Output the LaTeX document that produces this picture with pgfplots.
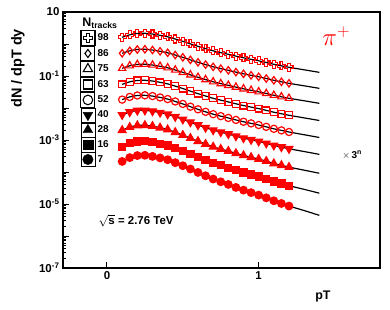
\documentclass[border=0pt]{standalone}
\usepackage{fontspec}
\setmainfont{Liberation Sans}
\usepackage{pgfplots}
\pgfplotsset{compat=1.18}
\usepackage{pgfplotstable}

\pgfdeclareplotmark{ocross}{%
 \pgfpathmoveto{\pgfqpoint{-0.36\pgfplotmarksize}{\pgfplotmarksize}}%
 \pgfpathlineto{\pgfqpoint{0.36\pgfplotmarksize}{\pgfplotmarksize}}%
 \pgfpathlineto{\pgfqpoint{0.36\pgfplotmarksize}{0.36\pgfplotmarksize}}%
 \pgfpathlineto{\pgfqpoint{\pgfplotmarksize}{0.36\pgfplotmarksize}}%
 \pgfpathlineto{\pgfqpoint{\pgfplotmarksize}{-0.36\pgfplotmarksize}}%
 \pgfpathlineto{\pgfqpoint{0.36\pgfplotmarksize}{-0.36\pgfplotmarksize}}%
 \pgfpathlineto{\pgfqpoint{0.36\pgfplotmarksize}{-\pgfplotmarksize}}%
 \pgfpathlineto{\pgfqpoint{-0.36\pgfplotmarksize}{-\pgfplotmarksize}}%
 \pgfpathlineto{\pgfqpoint{-0.36\pgfplotmarksize}{-0.36\pgfplotmarksize}}%
 \pgfpathlineto{\pgfqpoint{-\pgfplotmarksize}{-0.36\pgfplotmarksize}}%
 \pgfpathlineto{\pgfqpoint{-\pgfplotmarksize}{0.36\pgfplotmarksize}}%
 \pgfpathlineto{\pgfqpoint{-0.36\pgfplotmarksize}{0.36\pgfplotmarksize}}%
 \pgfpathclose
 \pgfusepathqstroke}

\pgfplotstableread{
pt a98 a86 a75 a63 a52 a40 a28 a16 a7
0.10 1.62 0.512 0.1743 5.46e-2 1.83e-2 6.12e-3 2.02e-3 6.22e-4 2.14e-4
0.15 1.94 0.613 0.2087 6.58e-2 2.22e-2 7.50e-3 2.52e-3 7.90e-4 2.82e-4
0.20 2.13 0.674 0.2292 7.24e-2 2.46e-2 8.34e-3 2.84e-3 8.95e-4 3.26e-4
0.25 2.16 0.683 0.2324 7.34e-2 2.49e-2 8.47e-3 2.88e-3 9.12e-4 3.33e-4
0.30 2.05 0.648 0.2206 6.97e-2 2.36e-2 8.00e-3 2.71e-3 8.53e-4 3.08e-4
0.35 1.87 0.591 0.2012 6.34e-2 2.14e-2 7.20e-3 2.42e-3 7.66e-4 2.76e-4
0.40 1.68 0.531 0.1808 5.68e-2 1.90e-2 6.38e-3 2.12e-3 6.76e-4 2.42e-4
0.45 1.43 0.452 0.1539 4.82e-2 1.60e-2 5.33e-3 1.74e-3 5.56e-4 1.96e-4
0.50 1.21 0.383 0.1302 4.06e-2 1.34e-2 4.42e-3 1.42e-3 4.55e-4 1.57e-4
0.55 1.01 0.319 0.1087 3.37e-2 1.10e-2 3.61e-3 1.14e-3 3.64e-4 1.24e-4
0.60 0.847 0.268 0.0911 2.81e-2 9.10e-3 2.94e-3 9.14e-4 2.92e-4 9.70e-5
0.65 0.718 0.227 0.0773 2.37e-2 7.60e-3 2.44e-3 7.45e-4 2.35e-4 7.61e-5
0.70 0.612 0.1935 0.0659 2.01e-2 6.40e-3 2.04e-3 6.12e-4 1.92e-4 6.03e-5
0.75 0.538 0.170 0.0579 1.76e-2 5.57e-3 1.77e-3 5.22e-4 1.62e-4 4.94e-5
0.80 0.476 0.1505 0.0512 1.55e-2 4.89e-3 1.54e-3 4.50e-4 1.37e-4 4.09e-5
0.85 0.418 0.132 0.0450 1.355e-2 4.24e-3 1.32e-3 3.83e-4 1.15e-4 3.30e-5
0.90 0.370 0.117 0.0398 1.194e-2 3.72e-3 1.15e-3 3.30e-4 9.68e-5 2.71e-5
0.95 0.332 0.105 0.0357 1.069e-2 3.31e-3 1.02e-3 2.89e-4 8.35e-5 2.27e-5
1.00 0.2985 0.0944 0.0321 9.57e-3 2.94e-3 9.06e-4 2.53e-4 7.20e-5 1.90e-5
1.05 0.264 0.0835 0.0284 8.43e-3 2.58e-3 7.89e-4 2.18e-4 6.07e-5 1.56e-5
1.10 0.232 0.0734 0.0250 7.38e-3 2.24e-3 6.81e-4 1.85e-4 5.08e-5 1.26e-5
1.15 0.208 0.0658 0.0224 6.61e-3 2.00e-3 6.03e-4 1.62e-4 4.35e-5 1.04e-5
1.20 0.187 0.0591 0.0201 5.92e-3 1.78e-3 5.33e-4 1.42e-4 3.73e-5 8.63e-6
1.30 0.156 0.0493 0.0168 4.91e-3 1.46e-3 4.36e-4 1.14e-4 2.87e-5 6.24e-6
1.40 0.130 0.0411 0.0140 4.07e-3 1.20e-3 3.56e-4 9.14e-5 2.18e-5 4.42e-6
}\data

\begin{document}
\begin{tikzpicture}
\path[use as bounding box] (-63bp,-42bp) rectangle (327bp,268bp);
\begin{axis}[
  at={(0,0)}, anchor=south west,
  scale only axis, width=317bp, height=256bp,
  ymode=log, xmin=-0.29, xmax=1.80, ymin=1e-7, ymax=10,
  axis line style={line width=1.3pt},
  tick style={line width=1pt, black},
  major tick length=6bp, minor tick length=3bp,
  tick pos=left, tick align=inside,
  xtick={0,1}, xticklabels={0,1},
  ytick={1e1,1e0,1e-1,1e-2,1e-3,1e-4,1e-5,1e-6,1e-7},
  yticklabels={10,{},10\textsuperscript{-1},{},10\textsuperscript{-3},{},10\textsuperscript{-5},{},10\textsuperscript{-7}},
  minor ytick={2e-7,3e-7,4e-7,5e-7,6e-7,7e-7,8e-7,9e-7,
    2e-6,3e-6,4e-6,5e-6,6e-6,7e-6,8e-6,9e-6,
    2e-5,3e-5,4e-5,5e-5,6e-5,7e-5,8e-5,9e-5,
    2e-4,3e-4,4e-4,5e-4,6e-4,7e-4,8e-4,9e-4,
    2e-3,3e-3,4e-3,5e-3,6e-3,7e-3,8e-3,9e-3,
    2e-2,3e-2,4e-2,5e-2,6e-2,7e-2,8e-2,9e-2,
    0.2,0.3,0.4,0.5,0.6,0.7,0.8,0.9,2,3,4,5,6,7,8,9},
  ticklabel style={font=\fontsize{11.5}{13}\selectfont\bfseries},
  xlabel={pT}, ylabel={dN / dpT dy},
  xlabel style={at={(axis description cs:0.82,-0.113)}, anchor=center, font=\fontsize{12.5}{14}\selectfont\bfseries},
  ylabel style={at={(axis description cs:-0.142,0.78)}, anchor=center, rotate=0, font=\fontsize{14.5}{17}\selectfont\bfseries},
  legend image code/.code={\path (0bp,-7.2bp) rectangle (14bp,7.2bp); \draw[#1] plot coordinates {(7bp,0bp)};},
  legend style={at={(axis description cs:0.054,0.930)}, anchor=north west, draw=none, fill=none,
    inner sep=0pt, row sep=0pt, column sep=2bp, nodes={inner sep=0pt},
    font=\fontsize{10}{12}\selectfont\bfseries},
  legend cell align=left,
  clip=false,
]
\addlegendimage{black, mark=ocross, line width=1.2pt, mark size=4.6bp}\addlegendentry{98}
\addlegendimage{black, mark=diamond, line width=1.1pt, mark size=4bp}\addlegendentry{86}
\addlegendimage{black, mark=triangle, line width=1.1pt, mark size=5.4bp}\addlegendentry{75}
\addlegendimage{black, mark=square, line width=1.1pt, mark size=4.5bp}\addlegendentry{63}
\addlegendimage{black, mark=o, line width=1.1pt, mark size=4.8bp}\addlegendentry{52}
\addlegendimage{black, mark=triangle*, mark options={rotate=180}, mark size=5.6bp}\addlegendentry{40}
\addlegendimage{black, mark=triangle*, mark size=5.6bp}\addlegendentry{28}
\addlegendimage{black, mark=square*, mark size=4.8bp}\addlegendentry{16}
\addlegendimage{black, mark=*, mark size=5.2bp}\addlegendentry{7}

\pgfplotsset{mk/.style={only marks, red, mark size=3.7bp, line width=1.2pt, restrict x to domain=0:1.21, forget plot},
  fit/.style={black, line width=1.2pt, smooth, no markers, forget plot}}
\addplot[mk, mark=ocross, mark size=4bp] table[x=pt,y=a98]{\data};
\addplot[fit] table[x=pt,y=a98]{\data};
\addplot[mk, mark=diamond] table[x=pt,y=a86]{\data};
\addplot[fit] table[x=pt,y=a86]{\data};
\addplot[mk, mark=triangle, mark size=4.2bp] table[x=pt,y=a75]{\data};
\addplot[fit] table[x=pt,y=a75]{\data};
\addplot[mk, mark=square, mark size=3.4bp] table[x=pt,y=a63]{\data};
\addplot[fit] table[x=pt,y=a63]{\data};
\addplot[mk, mark=o, mark size=3.6bp] table[x=pt,y=a52]{\data};
\addplot[fit] table[x=pt,y=a52]{\data};
\addplot[mk, mark=triangle*, mark size=4.4bp, mark options={rotate=180}] table[x=pt,y=a40]{\data};
\addplot[fit] table[x=pt,y=a40]{\data};
\addplot[mk, mark=triangle*, mark size=4.4bp] table[x=pt,y=a28]{\data};
\addplot[fit] table[x=pt,y=a28]{\data};
\addplot[mk, mark=square*, mark size=3.5bp] table[x=pt,y=a16]{\data};
\addplot[fit] table[x=pt,y=a16]{\data};
\addplot[mk, mark=*, mark size=3.8bp] table[x=pt,y=a7]{\data};
\addplot[fit] table[x=pt,y=a7]{\data};

\node[anchor=west, font=\fontsize{12.5}{14}\selectfont\bfseries] at (axis description cs:0.050,0.957) {N\textsubscript{tracks}};
\node[red, font=\fontsize{24}{28}\selectfont] at (axis description cs:0.862,0.905) {$\pi^{\mathbf{+}}$};
\node[font=\fontsize{10}{12}\selectfont] at (axis description cs:0.912,0.441) {$\times$\,\textbf{3}\textsuperscript{\textbf{n}}};
\node[anchor=west, font=\fontsize{11.5}{13}\selectfont\bfseries] at (axis description cs:0.101,0.184) {$\sqrt{\textbf{s}}$ = 2.76 TeV};
\end{axis}
\end{tikzpicture}
\end{document}
